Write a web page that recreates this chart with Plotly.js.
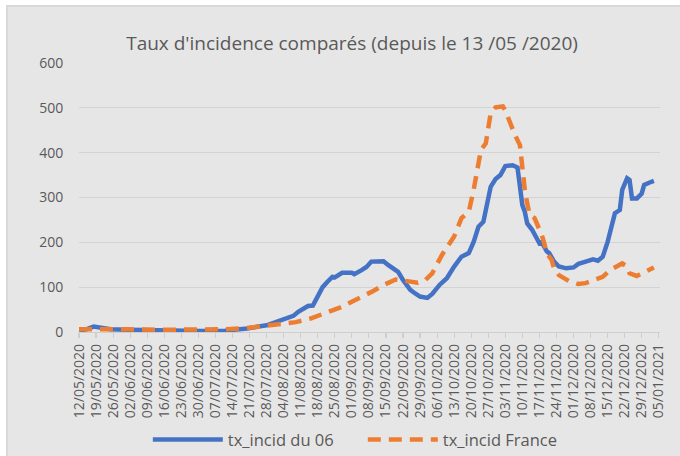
<!DOCTYPE html>
<html>
<head>
<meta charset="utf-8">
<script src="https://cdn.plot.ly/plotly-3.0.1.min.js"></script>
<style>
  html, body { margin: 0; padding: 0; background: #ffffff; width: 680px; height: 456px; overflow: hidden; }
  #frame { position: absolute; left: 6px; top: 5px; width: 676px; height: 453px; background: #d9d9d9; }
  #chart { position: absolute; left: 8px; top: 7px; width: 672px; height: 449px; }
</style>
</head>
<body>
<div id="frame"></div>
<div id="chart"></div>
<script>
// ---- data ----
const titleText = "Taux d'incidence comparés (depuis le 13 /05 /2020)";
const seriesNames = ["tx_incid du 06", "tx_incid France"];

const datesDep06 = [
  "2020-05-12","2020-05-15","2020-05-18","2020-05-20","2020-05-25","2020-06-01","2020-06-15",
  "2020-07-01","2020-07-11","2020-07-20","2020-07-28","2020-08-01","2020-08-05","2020-08-08",
  "2020-08-10","2020-08-14","2020-08-16","2020-08-18","2020-08-20","2020-08-22","2020-08-24",
  "2020-08-25","2020-08-28","2020-09-01","2020-09-02","2020-09-05","2020-09-07","2020-09-09",
  "2020-09-12","2020-09-14","2020-09-16","2020-09-20","2020-09-22","2020-09-25","2020-09-27",
  "2020-09-29","2020-10-02","2020-10-04","2020-10-07","2020-10-10","2020-10-13","2020-10-16",
  "2020-10-19","2020-10-21","2020-10-23","2020-10-25","2020-10-27","2020-10-28","2020-10-30",
  "2020-11-01","2020-11-03","2020-11-06","2020-11-08","2020-11-09","2020-11-10","2020-11-11",
  "2020-11-12","2020-11-14","2020-11-16","2020-11-17","2020-11-18","2020-11-20","2020-11-21",
  "2020-11-23","2020-11-25","2020-11-28","2020-12-01","2020-12-03","2020-12-06","2020-12-09",
  "2020-12-11","2020-12-13","2020-12-15","2020-12-17","2020-12-18","2020-12-20","2020-12-21",
  "2020-12-23","2020-12-24","2020-12-25","2020-12-27","2020-12-29","2020-12-30","2021-01-01",
  "2021-01-03"
];
const valuesDep06 = [
  3, 6, 12, 10, 6, 5, 3,
  2, 3, 8, 15, 22, 31, 36,
  45, 58, 59, 82, 100, 112, 123,
  122, 132, 132, 129, 138, 145, 157,
  159, 158, 149, 134, 116, 94, 86,
  79, 76, 85, 105, 120, 146, 168,
  176, 201, 235, 246, 298, 324, 341,
  350, 370, 372, 367, 324, 283, 268,
  242, 228, 210, 198, 200, 180, 176,
  157, 146, 142, 144, 152, 157, 162,
  159, 168, 201, 242, 265, 272, 317,
  343, 339, 298, 298, 309, 328, 333,
  337
];

const datesFrance = [
  "2020-05-12","2020-05-20","2020-06-01","2020-06-15","2020-07-01","2020-07-11","2020-07-20",
  "2020-07-28","2020-08-02","2020-08-09","2020-08-15","2020-08-19","2020-08-23","2020-08-28",
  "2020-08-30","2020-09-06","2020-09-10","2020-09-14","2020-09-19","2020-09-23","2020-09-28",
  "2020-10-01","2020-10-04","2020-10-08","2020-10-13","2020-10-16","2020-10-19","2020-10-21",
  "2020-10-23","2020-10-24","2020-10-26","2020-10-27","2020-10-28","2020-10-30","2020-11-02",
  "2020-11-03","2020-11-05","2020-11-07","2020-11-09","2020-11-10","2020-11-11","2020-11-12",
  "2020-11-13","2020-11-15","2020-11-16","2020-11-18","2020-11-19","2020-11-20","2020-11-22",
  "2020-11-23","2020-11-25","2020-11-29","2020-12-03","2020-12-06","2020-12-10","2020-12-13",
  "2020-12-16","2020-12-19","2020-12-21","2020-12-23","2020-12-24","2020-12-27","2020-12-29",
  "2021-01-01","2021-01-03"
];
const valuesFrance = [
  6, 7, 6, 5, 5, 6, 9,
  14, 17, 22, 30, 38, 45, 56,
  62, 80, 92, 105, 117, 114, 110,
  115, 131, 172, 213, 254, 268, 317,
  380, 406, 421, 458, 488, 501, 503,
  494, 466, 439, 417, 358, 317, 287,
  261, 254, 242, 216, 198, 175, 161,
  142, 127, 114, 107, 109, 117, 123,
  138, 147, 153, 146, 131, 125, 131,
  138, 144
];

const tickDates = [
  "2020-05-12","2020-05-19","2020-05-26","2020-06-02","2020-06-09","2020-06-16","2020-06-23",
  "2020-06-30","2020-07-07","2020-07-14","2020-07-21","2020-07-28","2020-08-04","2020-08-11",
  "2020-08-18","2020-08-25","2020-09-01","2020-09-08","2020-09-15","2020-09-22","2020-09-29",
  "2020-10-06","2020-10-13","2020-10-20","2020-10-27","2020-11-03","2020-11-10","2020-11-17",
  "2020-11-24","2020-12-01","2020-12-08","2020-12-15","2020-12-22","2020-12-29","2021-01-05"
];
const tickLabels = [
  "12/05/2020","19/05/2020","26/05/2020","02/06/2020","09/06/2020","16/06/2020","23/06/2020",
  "30/06/2020","07/07/2020","14/07/2020","21/07/2020","28/07/2020","04/08/2020","11/08/2020",
  "18/08/2020","25/08/2020","01/09/2020","08/09/2020","15/09/2020","22/09/2020","29/09/2020",
  "06/10/2020","13/10/2020","20/10/2020","27/10/2020","03/11/2020","10/11/2020","17/11/2020",
  "24/11/2020","01/12/2020","08/12/2020","15/12/2020","22/12/2020","29/12/2020","05/01/2021"
];
const yTicks = [0, 100, 200, 300, 400, 500, 600];

// ---- chart ----
const FONT = "Open Sans, Noto Sans, sans-serif";
const TXT = "#595959";

const traces = [
  {
    x: datesDep06, y: valuesDep06, name: seriesNames[0], type: "scatter", mode: "lines",
    line: { color: "#4472c4", width: 4.5 }, hoverinfo: "skip"
  },
  {
    x: datesFrance, y: valuesFrance, name: seriesNames[1], type: "scatter", mode: "lines",
    line: { color: "#ed7d31", width: 4.5, dash: "13px,8px" }, hoverinfo: "skip"
  }
];

const layout = {
  width: 672, height: 449,
  margin: { l: 71, r: 20, t: 56, b: 124, pad: 0, autoexpand: false },
  paper_bgcolor: "#e7e6e6",
  plot_bgcolor: "#e7e6e6",
  font: { family: FONT, color: TXT, size: 14 },
  title: {
    text: titleText,
    font: { family: FONT, size: 19, color: TXT },
    x: 0.512, xanchor: "center", y: 0.918, yanchor: "middle"
  },
  xaxis: {
    type: "date",
    automargin: false,
    range: ["2020-05-12", "2021-01-05 12:00"],
    tickmode: "array", tickvals: tickDates, ticktext: tickLabels,
    tickangle: -90,
    tickfont: { family: FONT, size: 14, color: TXT },
    showgrid: false, zeroline: false,
    showline: true, linecolor: "#cfcece", linewidth: 1.3,
    ticks: "outside", ticklen: 5, tickwidth: 1.2, tickcolor: "#cfcece",
    fixedrange: true
  },
  yaxis: {
    automargin: false,
    range: [0, 600],
    tickmode: "array", tickvals: yTicks,
    tickfont: { family: FONT, size: 14, color: TXT },
    showgrid: true, gridcolor: "#d4d3d3", gridwidth: 1.3,
    zeroline: false, showline: false,
    ticks: "outside", ticklen: 12, tickcolor: "rgba(0,0,0,0)",
    fixedrange: true
  },
  showlegend: true,
  legend: {
    orientation: "h",
    xref: "container", yref: "container",
    x: 0.528, xanchor: "center",
    y: 0.036, yanchor: "middle",
    bgcolor: "rgba(0,0,0,0)",
    font: { family: FONT, size: 16.5, color: TXT },
    itemwidth: 70,
    entrywidth: 130,
    tracegroupgap: 0
  }
};

Plotly.newPlot("chart", traces, layout, { displayModeBar: false, staticPlot: true });
</script>
</body>
</html>
